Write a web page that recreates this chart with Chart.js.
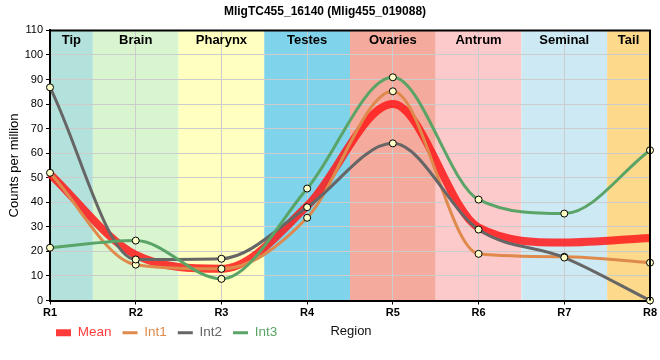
<!DOCTYPE html>
<html>
<head>
<meta charset="utf-8">
<script src="https://cdn.jsdelivr.net/npm/chart.js@4/dist/chart.umd.min.js"></script>
<style>
  html, body { margin: 0; padding: 0; background: #fff; }
  #wrap { width: 660px; height: 360px; }
</style>
</head>
<body>
<div id="wrap"><canvas id="c" width="660" height="360"></canvas></div>
<script>
// ---- data ----
const regions = ['R1', 'R2', 'R3', 'R4', 'R5', 'R6', 'R7', 'R8'];
const tissues = ['Tip', 'Brain', 'Pharynx', 'Testes', 'Ovaries', 'Antrum', 'Seminal', 'Tail'];
const tissueColors = ['#b3e2dd', '#d8f5cf', '#ffffbf', '#7fd3eb', '#f4aa9c', '#fccaca', '#cdeaf4', '#fdd98c'];
const meanValues = [51.5, 18.6, 12.9, 38.5, 80.0, 29.7, 23.6, 25.5];
const int1Values = [52.0, 14.6, 12.9, 33.7, 85.2, 19.0, 17.8, 15.4];
const int2Values = [86.8, 16.7, 17.0, 38.0, 64.0, 28.9, 17.5, 0.0];
const int3Values = [21.5, 24.4, 8.8, 45.6, 90.9, 41.1, 35.4, 61.2];
const yTicks = [0, 10, 20, 30, 40, 50, 60, 70, 80, 90, 100, 110];
const titleText = 'MligTC455_16140 (Mlig455_019088)';
const xTitle = 'Region';
const yTitle = 'Counts per million';

const FONT = '"Liberation Sans", Arial, sans-serif';
const colMean = 'rgba(255,25,25,0.85)';
const colInt1 = '#df8a4c';
const colInt2 = '#666666';
const colInt3 = '#5aa467';

const bandsPlugin = {
  id: 'bands',
  afterLayout(chart) {
    chart.legend.left = 45;
    chart.legend.top = 315;
  },
  beforeDraw(chart) {
    const ctx = chart.ctx, a = chart.chartArea, x = chart.scales.x;
    ctx.save();
    ctx.fillStyle = '#fff';
    ctx.fillRect(0, 0, chart.width, chart.height);
    tissues.forEach((t, i) => {
      const l = Math.max(a.left, x.getPixelForValue(i - 0.5));
      const r = Math.min(a.right, x.getPixelForValue(i + 0.5));
      ctx.fillStyle = tissueColors[i];
      ctx.fillRect(l, a.top, r - l, a.bottom - a.top);
    });
    ctx.restore();
  },
  beforeDatasetsDraw(chart) {
    const ctx = chart.ctx, a = chart.chartArea, x = chart.scales.x;
    ctx.save();
    ctx.font = 'bold 13px ' + FONT;
    ctx.fillStyle = '#000';
    ctx.textAlign = 'center';
    ctx.textBaseline = 'middle';
    tissues.forEach((t, i) => {
      const l = Math.max(a.left, x.getPixelForValue(i - 0.5));
      const r = Math.min(a.right, x.getPixelForValue(i + 0.5));
      ctx.fillText(t, (l + r) / 2, a.top + 10);
    });
    ctx.restore();
  },
  afterDraw(chart) {
    const ctx = chart.ctx, a = chart.chartArea;
    ctx.save();
    ctx.strokeStyle = '#000';
    ctx.lineWidth = 2;
    ctx.beginPath();
    ctx.moveTo(a.left, a.top);
    ctx.lineTo(a.right, a.top);
    ctx.lineTo(a.right, a.bottom);
    ctx.stroke();
    ctx.font = '13px ' + FONT;
    ctx.fillStyle = '#111';
    ctx.textAlign = 'center';
    ctx.textBaseline = 'middle';
    ctx.fillText(xTitle, 351, 331);
    ctx.restore();
  }
};

const pointOpts = {
  pointRadius: 3.5,
  pointHoverRadius: 3.5,
  pointBackgroundColor: '#ffffc8',
  pointBorderColor: '#000',
  pointBorderWidth: 1,
  borderWidth: 3,
  cubicInterpolationMode: 'monotone',
  fill: false,
  clip: false
};

new Chart(document.getElementById('c'), {
  type: 'line',
  data: {
    labels: regions,
    datasets: [
      { label: 'Mean', data: meanValues, borderColor: colMean, backgroundColor: colMean,
        borderWidth: 8, pointRadius: 0, cubicInterpolationMode: 'monotone', fill: false, order: 4, clip: false },
      Object.assign({ label: 'Int1', data: int1Values, borderColor: colInt1, backgroundColor: colInt1, order: 3 }, pointOpts),
      Object.assign({ label: 'Int2', data: int2Values, borderColor: colInt2, backgroundColor: colInt2, order: 2 }, pointOpts),
      Object.assign({ label: 'Int3', data: int3Values, borderColor: colInt3, backgroundColor: colInt3, order: 1 }, pointOpts)
    ]
  },
  options: {
    responsive: false,
    animation: false,
    events: [],
    layout: { padding: { left: 0, right: 10, top: 0, bottom: 3 } },
    plugins: {
      title: {
        display: true, text: titleText, color: '#000',
        font: { family: FONT, size: 12, weight: 'bold' },
        padding: { top: 4, bottom: 12 }
      },
      legend: {
        display: true, position: 'bottom', align: 'start',
        labels: {
          usePointStyle: true, pointStyleWidth: 15, boxWidth: 15,
          padding: 11,
          font: { family: FONT, size: 13.5 },
          generateLabels(chart) {
            const items = Chart.defaults.plugins.legend.labels.generateLabels(chart);
            items.forEach(it => {
              const ds = chart.data.datasets[it.datasetIndex];
              it.fontColor = ds.borderColor;
              it.strokeStyle = ds.borderColor;
              it.fillStyle = ds.borderColor;
              it.pointStyle = 'line';
              it.lineWidth = it.datasetIndex === 0 ? 7 : 3;
              it.lineCap = 'butt';
            });
            return items;
          },
          sort: (a, b) => a.datasetIndex - b.datasetIndex
        }
      },
      tooltip: { enabled: false }
    },
    scales: {
      x: {
        type: 'category', offset: false,
        grid: { color: '#cccccc', lineWidth: 1, tickColor: '#000', tickLength: 4, drawOnChartArea: true },
        border: { color: '#000', width: 2 },
        ticks: { color: '#000', font: { family: FONT, size: 11, weight: 'bold' }, padding: 2, maxRotation: 0 },
        afterFit(s) { s.height = 22; }
      },
      y: {
        min: 0, max: 110,
        afterBuildTicks(s) { s.ticks = yTicks.map(v => ({ value: v })); },
        grid: { color: '#cccccc', lineWidth: 1, tickColor: '#000', tickLength: 4 },
        border: { color: '#000', width: 2 },
        ticks: { color: '#000', font: { family: FONT, size: 11 }, padding: 3 },
        title: { display: true, text: yTitle, color: '#000', font: { family: FONT, size: 13 }, padding: { top: 7, bottom: 0 } },
        afterFit(s) { s.width = 50; }
      }
    }
  },
  plugins: [bandsPlugin]
});
</script>
</body>
</html>
